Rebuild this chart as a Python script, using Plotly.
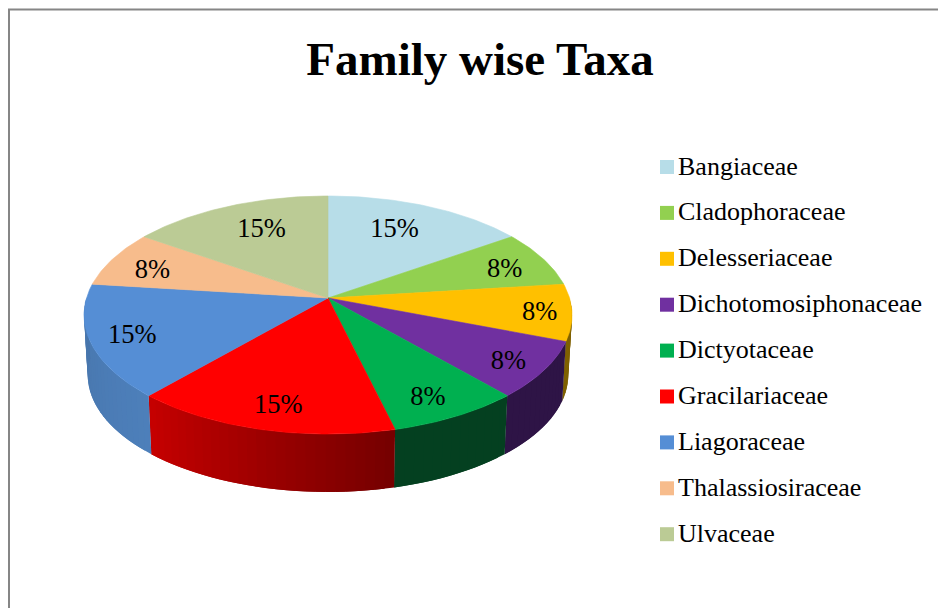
import math
import plotly.graph_objects as go

families = ['Bangiaceae', 'Cladophoraceae', 'Delesseriaceae', 'Dichotomosiphonaceae', 'Dictyotaceae',
            'Gracilariaceae', 'Liagoraceae', 'Thalassiosiraceae', 'Ulvaceae']
taxa = [2, 1, 1, 1, 1, 2, 2, 1, 2]

top_colors = ['#b7dde8', '#92d050', '#ffc000', '#7030a0', '#00b050', '#ff0000', '#558ed5', '#f7bc8c', '#bbcb95']
# wall shade at the start and the end of each slice, clockwise
wall_colors = [('#b7dde8', '#b7dde8'), ('#92d050', '#92d050'), ('#7f6000', '#7f6000'), ('#2e1446', '#2e1446'),
               ('#044020', '#044020'), ('#760000', '#c80000'), ('#4d7fba', '#4775ab'), ('#f7bc8c', '#f7bc8c'),
               ('#bbcb95', '#bbcb95')]

# pie placed on a pixel sized axis, tilted with a little perspective like the Excel 3-D pie
CX, CY = 328, 298
RX, RY = 241.5, 116.6
PERSP = 0.143
DEPTH = 60
LOWER = 0.985

# label placement along each slice radius, and a small vertical nudge
label_radius = [0.64, 0.815, 0.87, 0.845, 0.80, 0.77, 0.83, 0.81, 0.64]
label_nudge = [-7, 5, 3, 4, 8, 11, 3, 6, -7]


def project(theta, r=1.0, dy=0.0):
    s, c = math.sin(theta), math.cos(theta)
    d = 1 + PERSP * r * c
    return CX + RX * r * s / d, CY + dy - RY * r * c / d


def lower_rim(theta):
    x, y = project(theta)
    return CX + (x - CX) * LOWER, CY + DEPTH + (y - CY) * LOWER


def mix(c1, c2, t):
    a = [int(c1[i:i + 2], 16) for i in (1, 3, 5)]
    b = [int(c2[i:i + 2], 16) for i in (1, 3, 5)]
    return '#%02x%02x%02x' % tuple(round(a[i] + (b[i] - a[i]) * t) for i in range(3))


def poly(xs, ys, color, name=None, width=0.6):
    return go.Scatter(x=xs, y=ys, mode='lines', fill='toself', fillcolor=color,
                      line=dict(color=color, width=width), name=name, showlegend=False, hoverinfo='skip')


fig = go.Figure()
total = sum(taxa)
edges = [0]
for v in taxa:
    edges.append(edges[-1] + v / total * 2 * math.pi)

# walls first, the top face paints over them
# each strip runs on under the next one so that no seams show
for i in range(len(taxa)):
    a0, a1 = max(edges[i], math.pi / 2), min(edges[i + 1], 3 * math.pi / 2)
    if a1 <= a0:
        continue
    steps = max(2, int((a1 - a0) / math.radians(2)))
    for j in range(steps):
        t0 = a0 + (a1 - a0) * j / steps
        t1 = a1 if j == steps - 1 else a0 + (a1 - a0) * (j + 2) / steps
        arc = [t0 + (t1 - t0) * k / 4 for k in range(5)]
        up = [project(t) for t in arc]
        lo = [lower_rim(t) for t in reversed(arc)]
        pts = up + lo + up[:1]
        fig.add_trace(poly([p[0] for p in pts], [p[1] for p in pts],
                           mix(wall_colors[i][0], wall_colors[i][1], j / steps), width=0))

for i, fam in enumerate(families):
    n = max(8, int((edges[i + 1] - edges[i]) / math.radians(1)))
    rim = [project(edges[i] + (edges[i + 1] - edges[i]) * j / n) for j in range(n + 1)]
    xs = [CX] + [p[0] for p in rim] + [CX]
    ys = [CY] + [p[1] for p in rim] + [CY]
    fig.add_trace(poly(xs, ys, top_colors[i], fam))

# percent labels
label_pos = [project((edges[i] + edges[i + 1]) / 2, label_radius[i], label_nudge[i]) for i in range(len(taxa))]
fig.add_trace(go.Scatter(
    x=[p[0] for p in label_pos], y=[p[1] for p in label_pos], mode='text',
    text=[f'{round(v / total * 100)}%' for v in taxa],
    textfont=dict(family='Liberation Serif', size=26.5, color='black'),
    showlegend=False, hoverinfo='skip'))

# legend
LEG_X, LEG_Y, LEG_STEP = 667, 167, 45.9
leg_y = [LEG_Y + LEG_STEP * i for i in range(len(families))]
fig.add_trace(go.Scatter(
    x=[LEG_X] * len(families), y=leg_y, mode='markers',
    marker=dict(symbol='square', size=14, color=top_colors),
    showlegend=False, hoverinfo='skip'))
fig.add_trace(go.Scatter(
    x=[LEG_X + 11] * len(families), y=[y + 1 for y in leg_y], mode='text', text=families,
    textposition='middle right',
    textfont=dict(family='Liberation Serif', size=26, color='black'),
    showlegend=False, hoverinfo='skip'))

fig.update_layout(
    width=938, height=608, margin=dict(l=0, r=0, t=0, b=0),
    paper_bgcolor='white', plot_bgcolor='white', showlegend=False,
    title=dict(text='<b>Family wise Taxa</b>', x=480 / 938, xanchor='center', y=1 - 59 / 608, yanchor='middle',
               font=dict(family='Liberation Serif', size=47, color='black')),
    xaxis=dict(range=[0, 938], visible=False, fixedrange=True),
    yaxis=dict(range=[608, 0], visible=False, fixedrange=True),
    shapes=[dict(type='rect', x0=9, y0=9.5, x1=990, y1=700, line=dict(color='#868686', width=2), layer='below')],
)

fig.write_html('out.html', config={'displayModeBar': False},
               post_script="document.body.style.margin='0';document.body.style.overflow='hidden';")
